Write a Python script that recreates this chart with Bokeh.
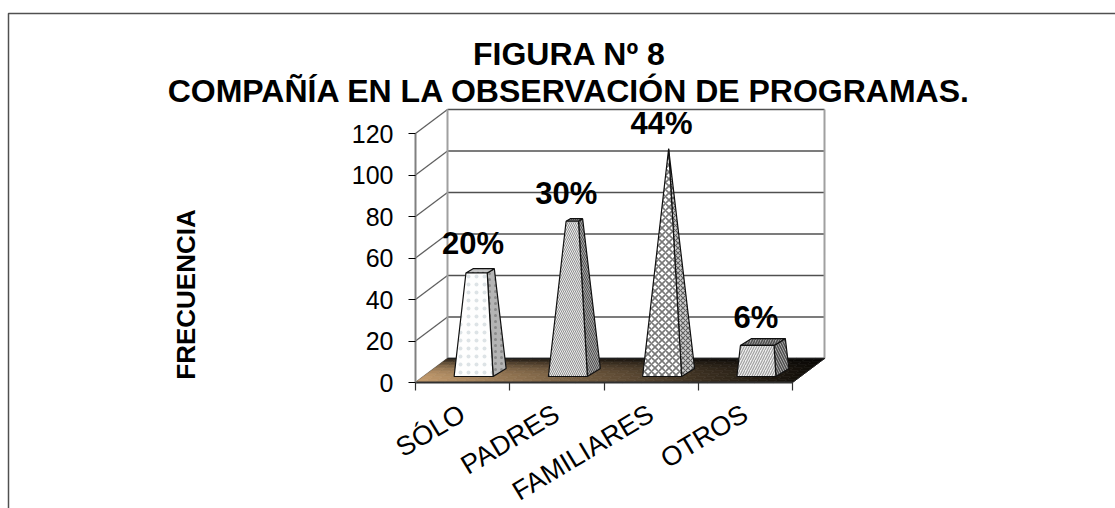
import math
from bokeh.plotting import figure
from bokeh.models import Range1d, FixedTicker, LinearAxis, Label, ColumnDataSource
from bokeh.embed import file_html
from bokeh.resources import INLINE

categories = ["SÓLO", "PADRES", "FAMILIARES", "OTROS"]
values = [50, 75, 110, 15]
percent_labels = ["20%", "30%", "44%", "6%"]
y_ticks = [0, 20, 40, 60, 80, 100, 120]
title_lines = ["FIGURA Nº 8", "COMPAÑÍA EN LA OBSERVACIÓN DE PROGRAMAS."]
y_title = "FRECUENCIA"

W, H = 1115, 508
X0, Y0, STEP, UNIT = 415, 382, 94.25, 2.075   # pixels of the front axes
DEPTH_X, DEPTH_Y = 32 / STEP, 24 / UNIT       # depth of the 3-D box, data units
FONT = "Liberation Sans"

def dx(px): return (px - X0) / STEP
def dy(py): return (Y0 - py) / UNIT

p = figure(width=W, height=H, output_backend="svg", toolbar_location=None,
           x_range=Range1d(dx(0), dx(W)), y_range=Range1d(dy(H), dy(0)),
           x_axis_type=None, y_axis_type=None,
           min_border=0)
p.outline_line_color = None
p.grid.visible = False
p.background_fill_color = "white"

# walls
top = max(y_ticks)
p.segment([DEPTH_X] * len(y_ticks), [v + DEPTH_Y for v in y_ticks],
          [4 + DEPTH_X] * len(y_ticks), [v + DEPTH_Y for v in y_ticks],
          line_color="#505050", line_width=1.5)
p.segment([0] * len(y_ticks), y_ticks, [DEPTH_X] * len(y_ticks), [v + DEPTH_Y for v in y_ticks],
          line_color="#606060", line_width=1.3)
p.segment([DEPTH_X, 4 + DEPTH_X], [DEPTH_Y, DEPTH_Y], [DEPTH_X, 4 + DEPTH_X], [top + DEPTH_Y, top + DEPTH_Y],
          line_color="#a0a0a0", line_width=2)

# floor, drawn as a fine mesh for the gradient
def lerp(a, b, t): return [a[i] + (b[i] - a[i]) * t for i in range(3)]
NC, NR = 40, 8
xs, ys, cs = [], [], []
for c in range(NC):
    for r in range(NR):
        s0, s1 = 4 * c / NC, 4 * (c + 1) / NC
        t0, t1 = r / NR, (r + 1) / NR
        xs.append([s0 + t0 * DEPTH_X, s1 + t0 * DEPTH_X, s1 + t1 * DEPTH_X, s0 + t1 * DEPTH_X])
        ys.append([t0 * DEPTH_Y, t0 * DEPTH_Y, t1 * DEPTH_Y, t1 * DEPTH_Y])
        u = (c + .5) / NC
        base = lerp((196, 156, 110), (20, 16, 10), u ** 0.9)
        dark = 1 - 0.8 * ((r + .5) / NR) ** 2.5
        col = [int(v * dark) for v in base]
        cs.append("#%02x%02x%02x" % tuple(col))
p.patches(xs, ys, fill_color=cs, line_color=cs, line_width=0.6)
p.segment([4], [0], [4 + DEPTH_X], [DEPTH_Y], line_color="#202020", line_width=1)
p.segment([DEPTH_X], [DEPTH_Y], [4 + DEPTH_X], [DEPTH_Y], line_color="#202020", line_width=1.5)

# pyramids
APEX = max(values)
HW, DX, DY = 19.5 / STEP, 6.5 / STEP, 4 / UNIT     # half width and half depth of the base
CX, CY, SHRINK = 17.5 / STEP, 10 / UNIT, 0.98
styles = [
    dict(front=("#fefefe", "dot", "#dde3e6", 8, 1), side=("#b4b4b4", "dot", "#8a8a8a", 6, 1), top=("#c4c4c4", "dot", "#808080", 5, 1)),
    dict(front=("#ececec", "left_diagonal_line", "#909090", 4, 1), side=("#a8a8a8", "left_diagonal_line", "#505050", 4, 1), top=("#909090", "left_diagonal_line", "#505050", 4, 1)),
    dict(front=("#ffffff", "diagonal_cross", "#787878", 7, 1.6), side=("#d0d0d0", "diagonal_cross", "#606060", 5, 1.2), top=("#909090", "diagonal_cross", "#505050", 5, 1)),
    dict(front=("#f0f0f0", "right_diagonal_line", "#a0a0a0", 5, 1.2), side=("#c0c0c0", "left_diagonal_line", "#505050", 5, 1.6), top=("#a8a8a8", "right_diagonal_line", "#505050", 5, 1.6)),
]
for i, v in enumerate(values):
    cx, cy = i + .5 + CX, CY
    f = 1 - v / APEX
    h = v * SHRINK
    def pt(sx, sd, up):
        k = f if up else 1
        return (cx + sx * HW * k + sd * DX * k, cy + (h if up else 0) + sd * DY * k)
    fl0, fr0, br0 = pt(-1, -1, 0), pt(1, -1, 0), pt(1, 1, 0)
    fl1, fr1, br1, bl1 = pt(-1, -1, 1), pt(1, -1, 1), pt(1, 1, 1), pt(-1, 1, 1)
    faces = dict(side=[fr0, br0, br1, fr1], front=[fl0, fr0, fr1, fl1], top=[fl1, fr1, br1, bl1])
    for name in ("side", "top", "front"):
        fc, hp, hc, hs, hw = styles[i][name]
        pts = faces[name]
        p.patch([q[0] for q in pts], [q[1] for q in pts], fill_color=fc, hatch_pattern=hp,
                hatch_color=hc, hatch_scale=hs, hatch_weight=hw, line_color="#101010", line_width=1.2)

# percentage labels
nudge_x = [-7, -8, -7, -7]
nudge_y = [-27, -26, -25, -24]
src = ColumnDataSource(dict(x=[i + .5 + CX for i in range(4)], y=[CY + v * SHRINK for v in values],
                            t=percent_labels, xo=nudge_x, yo=nudge_y))
p.text("x", "y", text="t", source=src, x_offset="xo", y_offset="yo", text_align="center",
       text_baseline="middle", text_font_size="31px", text_font_style="bold", text_color="black",
       text_font={"value": FONT})

# axes: fixed inside the full-canvas frame
yax = LinearAxis(ticker=FixedTicker(ticks=y_ticks), bounds=(0, top), fixed_location=0)
yax.axis_line_color = "#808080"; yax.axis_line_width = 2
yax.major_tick_line_color = "black"; yax.major_tick_out = 7; yax.major_tick_in = 0; yax.major_tick_line_width = 1.2
yax.minor_tick_line_color = None
yax.major_label_text_font = FONT; yax.major_label_text_font_size = "25px"; yax.major_label_text_color = "black"
yax.major_label_standoff = 15
p.add_layout(yax, "left")

xax = LinearAxis(ticker=FixedTicker(ticks=[i + .5 for i in range(4)], minor_ticks=[0, 1, 2, 3, 4]), bounds=(0, 4), fixed_location=0)
xax.major_label_overrides = {i + .5: c for i, c in enumerate(categories)}
xax.axis_line_color = "#303030"; xax.axis_line_width = 2
xax.major_tick_line_color = None
xax.minor_tick_line_color = "#303030"; xax.minor_tick_out = 8; xax.minor_tick_in = 0; xax.minor_tick_line_width = 1.2
xax.major_label_orientation = math.radians(31)
xax.major_label_text_font = FONT; xax.major_label_text_font_size = "27px"; xax.major_label_text_color = "black"
xax.major_label_standoff = 21
p.add_layout(xax, "below")

# chart titles
for txt, py, size in [(title_lines[0], 53, "32px"), (title_lines[1], 90, "32px")]:
    p.add_layout(Label(x=dx(569), y=dy(py), text=txt, text_align="center", text_baseline="middle",
                       text_font=FONT, text_font_size=size, text_font_style="bold", text_color="black"))
p.add_layout(Label(x=dx(185), y=dy(294), text=y_title, angle=90, angle_units="deg", text_align="center",
                   text_baseline="middle", text_font=FONT, text_font_size="26px", text_font_style="bold",
                   text_color="black"))

# chart-area border (bottom and right lie outside the picture)
p.line([dx(8), dx(8), dx(W)], [dy(H), dy(13), dy(13)], line_color="#505050", line_width=1.5)

open("out.html", "w").write(file_html(p, INLINE))
